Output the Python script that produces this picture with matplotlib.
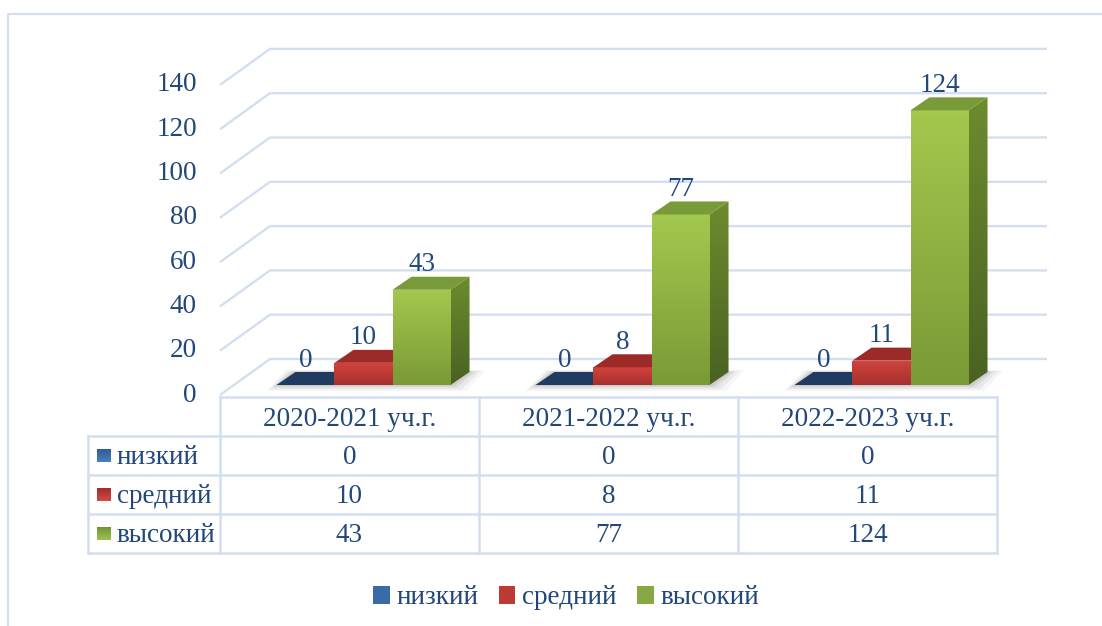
import numpy as np
import matplotlib
matplotlib.use('Agg')
import matplotlib.pyplot as plt
from matplotlib.patches import Polygon, Patch
from matplotlib.lines import Line2D
from matplotlib.colors import LinearSegmentedColormap

# данные
categories = ['2020-2021 уч.г.', '2021-2022 уч.г.', '2022-2023 уч.г.']
series = ['низкий', 'средний', 'высокий']
low = [0, 0, 0]
mid = [10, 8, 11]
high = [43, 77, 124]
yticks = [0, 20, 40, 60, 80, 100, 120, 140]

plt.rcParams['font.family'] = ['Liberation Serif', 'DejaVu Serif']
TXT = '#22487a'
GRID = '#d3dff0'
FS = 19.5

# цвета граней: (лицо верх, лицо низ), (бок верх, бок низ), крышка
faces = [
    (('#2d5284', '#1f3a5f'), ('#1a3352', '#142a44'), '#1f3b60'),
    (('#d2433e', '#a6302d'), ('#8e2623', '#6f1d1b'), '#9c2a27'),
    (('#a3c84e', '#7a9a36'), ('#6c8c2e', '#4a6222'), '#789a38'),
]
legend_cols = [('#4a7ebb', '#2c5a94'), ('#d44a44', '#9e2b2b'), ('#9fc153', '#6f8f2f')]

W, H = 1102, 626
fig = plt.figure(figsize=(W / 100, H / 100), dpi=100)

# основная ось: передняя плоскость, категории по 259 px, 2.215 px на единицу
PX_CAT, PX_VAL = 259.0, 2.215
X0_PX, Y0_PX = 220.0, 395.0
ax = fig.add_axes([0, 0, 1, 1])
ax.set_xlim(-X0_PX / PX_CAT - 0.5, (W - X0_PX) / PX_CAT - 0.5)
ax.set_ylim((Y0_PX - H) / PX_VAL, Y0_PX / PX_VAL)
ax.axis('off')


def shift(px, py):
    return px / PX_CAT, py / PX_VAL


def grad_fill(a, poly, c_top, c_bot, z):
    cmap = LinearSegmentedColormap.from_list('g', [c_bot, c_top])
    poly = np.asarray(poly)
    x0, x1 = poly[:, 0].min(), poly[:, 0].max()
    y0, y1 = poly[:, 1].min(), poly[:, 1].max()
    if y1 - y0 <= 0:
        return
    g = np.linspace(1, 0, 64).reshape(-1, 1)
    im = a.imshow(g, cmap=cmap, extent=[x0, x1, y0, y1], aspect='auto',
                  interpolation='bilinear', zorder=z)
    clip = Polygon(poly, closed=True, transform=a.transData)
    im.set_clip_path(clip)


# задняя стенка и сетка
bx, by = shift(50, 36)
for v in yticks:
    ax.plot([-0.5, -0.5 + bx, 2.5 + bx], [v, v + by, v + by],
            color=GRID, lw=1.7, solid_capstyle='butt', zorder=1)
    ax.text(-0.5 - shift(23, 0)[0], v, str(v), ha='right', va='center',
            fontsize=FS, color=TXT)

# столбцы
w = 0.224
fx, fy = shift(14, 10)
dx, dy = shift(19, 13)
values = [low, mid, high]

for i in range(len(categories)):
    gl = i - 1.5 * w + fx
    gr = i + 1.5 * w + fx
    # тень
    for k, e in enumerate([10, 7, 4, 2]):
        ex, ey = shift(e, e * 0.6)
        ax.add_patch(Polygon([(gl - ex, fy - ey), (gr + ex * 1.6, fy - ey),
                              (gr + dx + ex * 1.6, fy + dy + ey * 0.3),
                              (gl + dx - ex, fy + dy + ey * 0.3)],
                             closed=True, facecolor='#808080', edgecolor='none',
                             alpha=0.07 + 0.03 * k, zorder=2))
    for j, vals in enumerate(values):
        v = vals[i]
        (ft, fb), (st, sb), tc = faces[j]
        xl = i + (j - 1.5) * w + fx
        xr = xl + w
        z = 3 + j
        side = [(xr, fy), (xr + dx, fy + dy), (xr + dx, fy + v + dy), (xr, fy + v)]
        grad_fill(ax, side, st, sb, z)
        front = [(xl, fy), (xr, fy), (xr, fy + v), (xl, fy + v)]
        grad_fill(ax, front, ft, fb, z + 0.1)
        ax.add_patch(Polygon([(xl, fy + v), (xr, fy + v), (xr + dx, fy + v + dy),
                              (xl + dx, fy + v + dy)], closed=True,
                             facecolor=tc, edgecolor='none', zorder=z + 0.2))
        ax.text(xl + w / 2, fy + v + shift(0, 25)[1], str(v), ha='center',
                va='center', fontsize=FS, color=TXT, zorder=10)

ax.set_xlim(-X0_PX / PX_CAT - 0.5, (W - X0_PX) / PX_CAT - 0.5)
ax.set_ylim((Y0_PX - H) / PX_VAL, Y0_PX / PX_VAL)

# таблица данных
left_px = 88.0
tab = fig.add_axes([left_px / W, 1 - 553 / H, (997 - left_px) / W, (553 - 397) / H])
xl_tab = -0.5 - (X0_PX - left_px) / PX_CAT
tab.set_xlim(xl_tab, 2.5)
tab.set_ylim(4, 0)
tab.axis('off')
lw_t = 1.8
tab.plot([-0.5, 2.5], [0, 0], color=GRID, lw=lw_t, clip_on=False)
for r in range(1, 5):
    tab.plot([xl_tab, 2.5], [r, r], color=GRID, lw=lw_t, clip_on=False)
for c in [-0.5, 0.5, 1.5, 2.5]:
    tab.plot([c, c], [0, 4], color=GRID, lw=lw_t, clip_on=False)
tab.plot([xl_tab, xl_tab], [1, 4], color=GRID, lw=lw_t, clip_on=False)

for i, cat in enumerate(categories):
    tab.text(i, 0.58, cat, ha='center', va='center', fontsize=FS, color=TXT)
sq_w = 14 / PX_CAT
sq_h = 14 / 39.0
for j, name in enumerate(series):
    r = j + 1.5
    x_sq = xl_tab + 9 / PX_CAT
    grad_fill(tab, [(x_sq, r - sq_h / 2), (x_sq + sq_w, r - sq_h / 2),
                    (x_sq + sq_w, r + sq_h / 2), (x_sq, r + sq_h / 2)],
              legend_cols[j][0], legend_cols[j][1], 3)
    tab.text(xl_tab + 29 / PX_CAT, r + 0.05, name, ha='left', va='center',
             fontsize=FS, color=TXT)
    for i in range(len(categories)):
        tab.text(i, r + 0.05, str(values[j][i]), ha='center', va='center',
                 fontsize=FS, color=TXT)
tab.set_xlim(xl_tab, 2.5)
tab.set_ylim(4, 0)

# легенда
mid_cols = ['#3b6aa8', '#bd3a35', '#88a843']
handles = [Patch(facecolor=mid_cols[j], edgecolor='none', label=series[j])
           for j in range(3)]
fig.legend(handles=handles, ncol=3, loc='center', bbox_to_anchor=(566 / W, 1 - 598 / H),
           frameon=False, fontsize=FS, labelcolor=TXT, handlelength=0.62,
           handleheight=0.62, handletextpad=0.25, columnspacing=0.75)

# рамка
fig.add_artist(Line2D([8 / W, 8 / W, 1], [0, 1 - 14 / H, 1 - 14 / H],
                      transform=fig.transFigure, color=GRID, lw=1.5))

fig.savefig('out.png', dpi=100)
